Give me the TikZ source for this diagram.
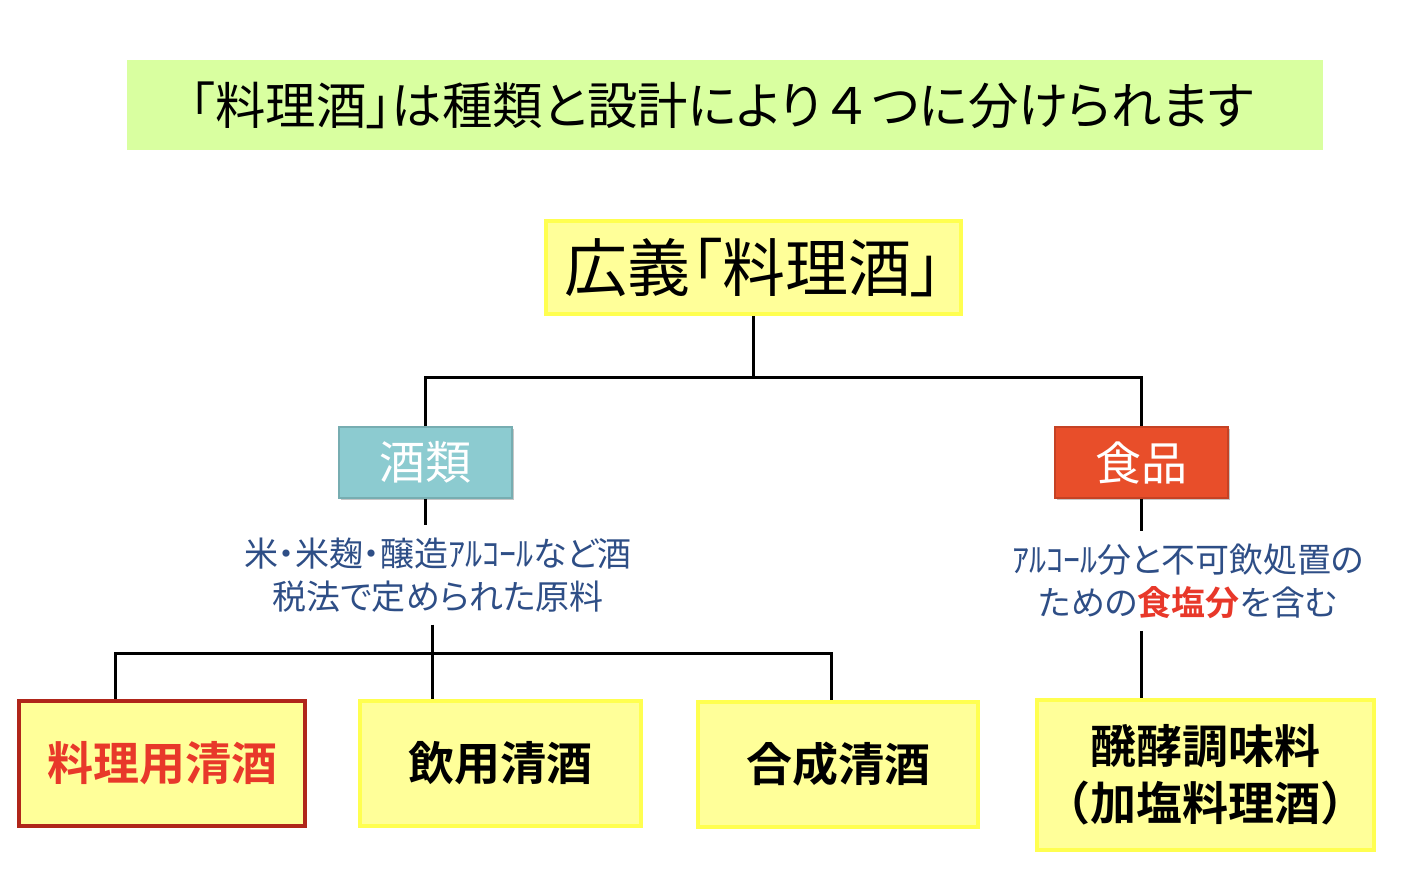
\documentclass[tikz,border=0pt]{standalone}
\usepackage{fontspec}
\newfontfamily\jp[BoldFont={Noto Sans CJK JP Bold}]{Noto Sans CJK JP}
\newfontfamily\jpp[RawFeature=+palt, BoldFont={Noto Sans CJK JP Bold}]{Noto Sans CJK JP}
\usetikzlibrary{shadows}

\definecolor{titlegreen}{RGB}{217,255,160}
\definecolor{boxyellow}{RGB}{255,255,153}
\definecolor{edgeyellow}{RGB}{255,255,80}
\definecolor{sakeblue}{RGB}{140,203,208}
\definecolor{foodred}{RGB}{232,78,42}
\definecolor{notered}{RGB}{232,56,42}
\definecolor{edgered}{RGB}{176,38,26}
\definecolor{noteblue}{RGB}{46,78,134}

\tikzset{
  kindbox/.style={minimum width=86.5pt, minimum height=35.5pt, inner sep=0pt,
    text=white, font=\jp\fontsize{23}{27}\selectfont,
    drop shadow={opacity=0.45, shadow xshift=1pt, shadow yshift=-1.2pt}},
  itembox/.style={fill=boxyellow, draw=edgeyellow, line width=2pt, inner sep=0pt,
    minimum height=62.5pt, font=\jp\bfseries\fontsize{23}{28.5}\selectfont, align=center},
  note/.style={text=noteblue, font=\jpp\fontsize{17}{21.5}\selectfont, align=center, inner sep=6pt},
  link/.style={line width=1.5pt, black}
}

\begin{document}
\begin{tikzpicture}[x=0.5pt,y=-0.5pt]
\useasboundingbox (0,0) rectangle (1418,876);

\node[fill=titlegreen, minimum width=598pt, minimum height=45pt, inner sep=0pt,
  font=\jpp\fontsize{25.2}{28}\selectfont] (title) at (725,105) {\hspace*{-3pt}「料理酒」は種類と設計により{\jp ４}つに分けられます};

\node[fill=boxyellow, draw=edgeyellow, line width=2pt, minimum width=207.5pt, minimum height=46.5pt,
  inner sep=0pt, font=\jpp\fontsize{31.5}{34}\selectfont] (broad) at (753.5,267.5) {広義「料理酒」};

\node[kindbox, fill=sakeblue, draw=sakeblue!85!black, line width=0.6pt] (sake) at (425.5,462.5) {酒類};
\node[kindbox, fill=foodred, draw=foodred!85!black, line width=0.6pt] (food) at (1141.5,462.5) {食品};

\node[note] (sakenote) at (438,575) {米・米麹・醸造ｱﾙｺｰﾙなど酒\\税法で定められた原料};
\node[note] (foodnote) at (1188,581) {ｱﾙｺｰﾙ分と不可飲処置の\\ための{\bfseries\color{notered}食塩分}を含む};

\node[itembox, draw=edgered, minimum width=143pt, text=notered] (cook) at (162,763.5) {料理用清酒};
\node[itembox, minimum width=140.5pt] (drink) at (500.5,763.5) {飲用清酒};
\node[itembox, minimum width=140pt] (synth) at (838,764) {合成清酒};
\node[itembox, minimum width=168.5pt, minimum height=75pt] (ferm) at (1205.5,775) {醗酵調味料\\（加塩料理酒）};

\coordinate (top) at (753,378);
\coordinate (low) at (432,653);

\draw[link] (broad.south -| top) -- (top);
\draw[link] (sake.north) -- (sake.north |- top) -- (food.north |- top) -- (food.north);
\draw[link] (sake.south) -- (sakenote.north -| sake.south);
\draw[link] (sakenote.south -| low) -- (drink.north -| low);
\draw[link] (cook.north -| 115,0) -- (115,653) -- (831,653) -- (synth.north -| 831,0);
\draw[link] (food.south) -- (foodnote.north -| food.south);
\draw[link] (foodnote.south -| food.south) -- (ferm.north -| food.south);
\end{tikzpicture}
\end{document}
